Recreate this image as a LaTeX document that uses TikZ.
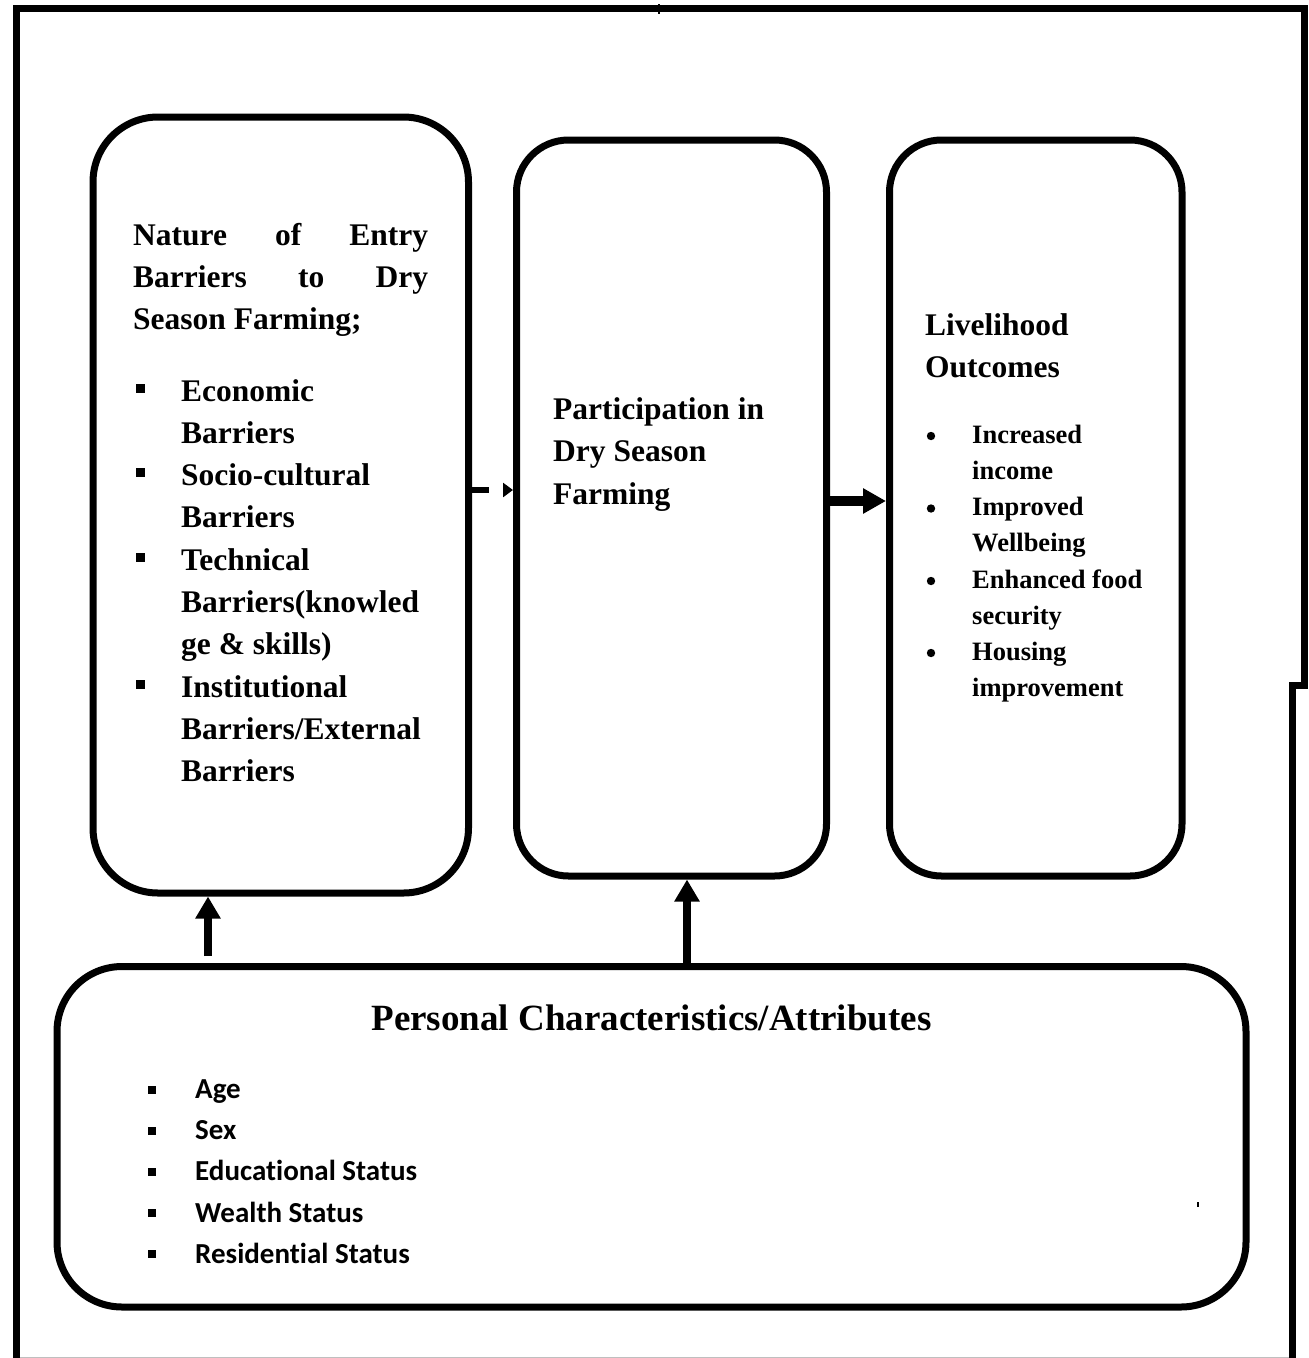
\documentclass[tikz,border=0pt]{standalone}
\usepackage{fontspec}
\setmainfont{Liberation Serif}
\newfontfamily\calfont[Ligatures={NoCommon}]{Carlito}
\usetikzlibrary{arrows.meta}
\begin{document}
\begin{tikzpicture}[x=1pt,y=-1pt,
  box/.style={draw, line width=7pt, inner sep=0pt},
  hd/.style={font=\fontsize{31.5}{42}\selectfont\bfseries, inner sep=0pt, anchor=base west},
  sm/.style={font=\fontsize{26.5}{36}\selectfont\bfseries, inner sep=0pt, anchor=base west},
  ttl/.style={font=\fontsize{37}{44}\selectfont\bfseries, inner sep=0pt, anchor=base},
  cb/.style={font=\calfont\fontsize{29}{41}\selectfont\bfseries, inner sep=0pt, anchor=base west},
  uparr/.style={line width=8pt, -{Triangle[length=22pt,width=24pt]}},
  rarr/.style={line width=10pt, -{Triangle[length=23pt,width=24pt]}},
  darr/.style={line width=6pt, dash pattern=on 17pt off 20pt, -{Triangle[length=10pt,width=14pt]}},
  sqb/.style={fill=black},
]
\useasboundingbox (0,0) rectangle (1309,1358);
% outer frame
\draw[line width=7pt, line join=miter] (16,1358) -- (16,8) -- (1304,8) -- (1304,685) -- (1292.5,685) -- (1292.5,1358);
\draw[line width=1.5pt] (659,4) -- (659,14);
\draw[line width=1pt, black!25] (20,1357) -- (1289,1357);
\fill (1197,1202) rectangle (1199,1207);

% boxes
\node[box, rounded corners=65pt, minimum width=375.5pt, minimum height=776pt] (b1) at (280.75,505) {};
\node[box, rounded corners=52pt, minimum width=310pt, minimum height=736pt] (b2) at (671.5,508) {};
\node[box, rounded corners=52pt, minimum width=292.5pt, minimum height=736pt] (b3) at (1035.75,508) {};
\node[box, rounded corners=65pt, minimum width=1189pt, minimum height=340.5pt] (b4) at (651.5,1136.75) {};

% box 1 text
\node[hd] (t11) at (133,245) {\makebox[295pt][s]{Nature\hfill of\hfill Entry}};
\node[hd] (t12) at (133,287) {\makebox[295pt][s]{Barriers\hfill to\hfill Dry}};
\node[hd] (t13) at (133,329) {Season Farming;};
\node[hd] (t14) at (181,401) {Economic};
\node[hd] (t15) at (181,443.3) {Barriers};
\node[hd] (t16) at (181,485.6) {Socio-cultural};
\node[hd] (t17) at (181,527.9) {Barriers};
\node[hd] (t18) at (181,570.2) {Technical};
\node[hd] (t19) at (181,612.5) {Barriers(knowled};
\node[hd] (t110) at (181,654.8) {ge \& skills)};
\node[hd] (t111) at (181,697.1) {Institutional};
\node[hd] (t112) at (181,739.4) {Barriers/External};
\node[hd] (t113) at (181,781.7) {Barriers};
\foreach \yy in {388,472.6,557.2,684.1} \fill[sqb] (135.5,\yy-4.5) rectangle (144.5,\yy+4.5);

% box 2 text
\node[hd] (t21) at (553,419) {Participation in};
\node[hd] (t22) at (553,461.5) {Dry Season};
\node[hd] (t23) at (553,504) {Farming};

% box 3 text
\node[hd] (t31) at (925,335) {Livelihood};
\node[hd] (t32) at (925,377) {Outcomes};
\node[sm] (t33) at (972,443) {Increased};
\node[sm] (t34) at (972,479) {income};
\node[sm] (t35) at (972,515.5) {Improved};
\node[sm] (t36) at (972,551.5) {Wellbeing};
\node[sm] (t37) at (972,588) {Enhanced food};
\node[sm] (t38) at (972,624) {security};
\node[sm] (t39) at (972,660) {Housing};
\node[sm] (t310) at (972,696) {improvement};
\foreach \yy in {436,508.5,581,653} \fill (931,\yy) circle (4.2pt);

% box 4 text
\node[ttl] (t41) at (651.5,1030) {Personal Characteristics/Attributes};
\node[cb] (t42) at (195,1098.5) {Age};
\node[cb] (t43) at (195,1139.7) {Sex};
\node[cb] (t44) at (195,1180.9) {Educational Status};
\node[cb] (t45) at (195,1222.1) {Wealth Status};
\node[cb] (t46) at (195,1263.3) {Residential Status};
\foreach \yy in {1089.5,1130.7,1171.9,1213.1,1254.3} \fill[sqb] (148,\yy-4) rectangle (156,\yy+4);

% connectors
\coordinate (hy1) at (0,490);
\coordinate (hy2) at (0,501);
\coordinate (ua) at (208,956);
\coordinate (ub) at (687,0);
\draw[darr] (b1.east |- hy1) -- (b2.west |- hy1);
\draw[rarr] (b2.east |- hy2) -- (b3.west |- hy2);
\draw[uparr] (ua) -- (ua |- b1.south);
\draw[uparr] (ub |- b4.north) -- (ub |- b2.south);
\end{tikzpicture}
\end{document}
